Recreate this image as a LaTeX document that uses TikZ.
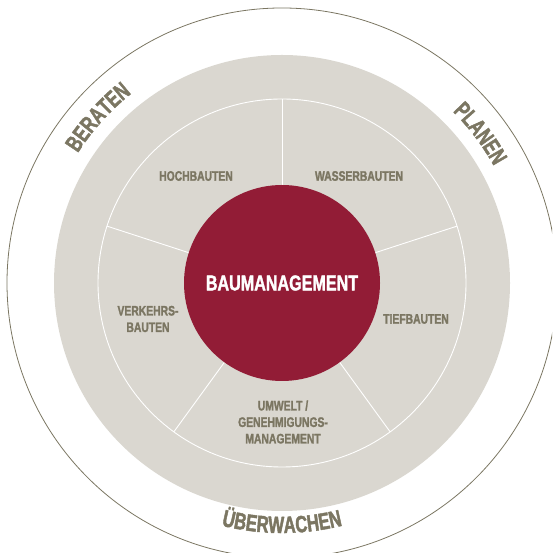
\documentclass[tikz,border=0pt]{standalone}
\usepackage{fontspec}
\usepackage{xcolor}
\usetikzlibrary{calc, decorations.text}
\newfontfamily\labelfont{Liberation Sans Bold}[FakeStretch=0.75, FakeBold=1.6]
\newfontfamily\arcfont{Liberation Sans Bold}[FakeStretch=0.71, FakeBold=1.8]
\definecolor{ringgray}{HTML}{DAD7D0}
\definecolor{baured}{HTML}{921C36}
\definecolor{labelolive}{HTML}{7B7662}
\newcommand{\curvefont}{\arcfont\fontsize{23.5}{26}\selectfont}

\begin{document}
\begin{tikzpicture}[x=1pt, y=1pt,
        field/.style={text=labelolive, align=center, font=\labelfont\fontsize{13.8}{16.5}\selectfont},
        spoke/.style={white, line width=0.9pt},
        curved/.style={decorate, decoration={text along path, text align=center, text color=labelolive}}]
        \useasboundingbox (0,0) rectangle (552,553);
        \clip (0,0) rectangle (552,553);
        \coordinate (ctr) at (282,270);

        % rings
        \draw[labelolive, line width=0.8pt] (ctr) circle (275);
        \fill[ringgray] (ctr) circle (228);
        \draw[spoke] (ctr) circle (184);
        \foreach \a in {90, 18, -54, -126, 162}
            \draw[spoke] (ctr) ++(\a:98) -- ++(\a:86);

        \node[circle, fill=baured, minimum size=196, inner sep=0, text=white,
              font=\labelfont\fontsize{21.5}{24}\selectfont] (core) at (ctr) {BAUMANAGEMENT};

        % fields
        \node[field] (hoch) at (196,377) {HOCHBAUTEN};
        \node[field] (wasser) at (359,377) {WASSERBAUTEN};
        \node[field] (tief) at (416,234) {TIEFBAUTEN};
        \node[field] (verkehr) at (148,234) {VERKEHRS-\\BAUTEN};
        \node[field] (umwelt) at (283,131) {UMWELT /\\GENEHMIGUNGS-\\MANAGEMENT};

        % outer words
        \path[curved, decoration={text={|\curvefont|BERATEN}}]
            ($(ctr)+(160:242)$) arc[start angle=160, end angle=116, radius=242];
        \path[curved, decoration={text={|\curvefont|PLANEN}}]
            ($(ctr)+(60:242)$) arc[start angle=60, end angle=14, radius=242];
        \path[curved, decoration={text={|\curvefont|ÜBERWACHEN}}]
            ($(ctr)+(-125:250)$) arc[start angle=-125, end angle=-55, radius=250];
\end{tikzpicture}
\end{document}
